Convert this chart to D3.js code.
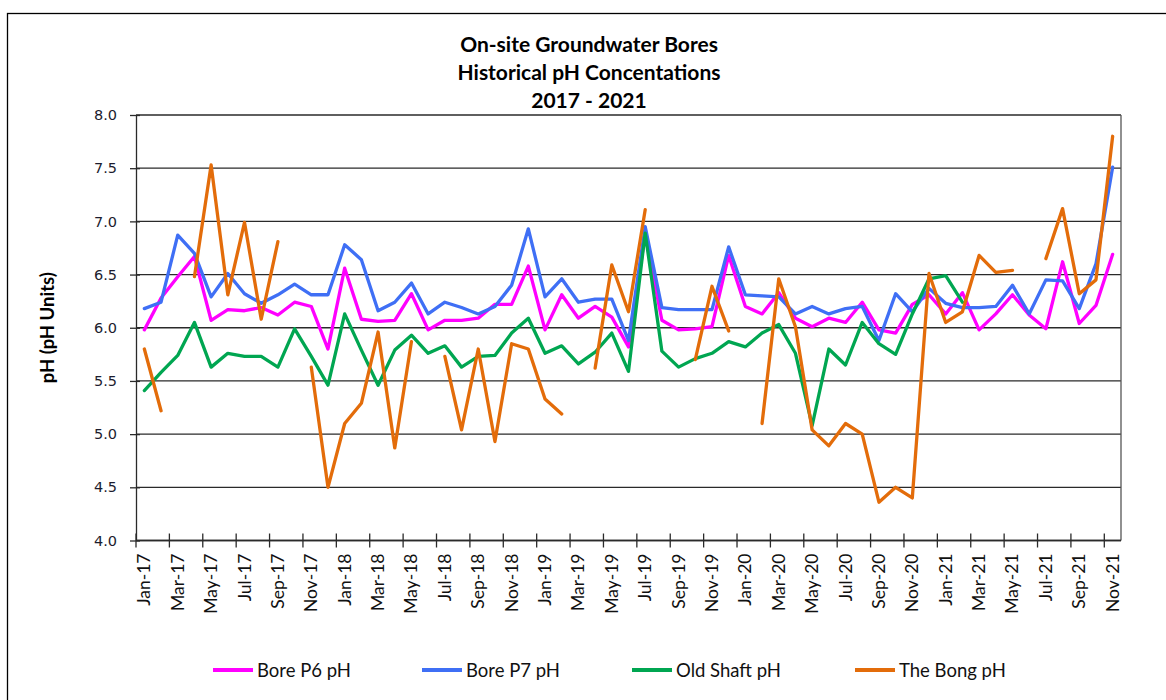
<!DOCTYPE html>
<html>
<head>
<meta charset="utf-8">
<script src="https://cdn.jsdelivr.net/npm/d3@7"></script>
<style>
  html, body { margin: 0; padding: 0; background: #fff; }
  svg { display: block; }
</style>
</head>
<body>
<div id="chart"></div>
<script>
const MONTHS = [
  'Jan-17','Feb-17','Mar-17','Apr-17','May-17','Jun-17','Jul-17','Aug-17','Sep-17','Oct-17','Nov-17','Dec-17',
  'Jan-18','Feb-18','Mar-18','Apr-18','May-18','Jun-18','Jul-18','Aug-18','Sep-18','Oct-18','Nov-18','Dec-18',
  'Jan-19','Feb-19','Mar-19','Apr-19','May-19','Jun-19','Jul-19','Aug-19','Sep-19','Oct-19','Nov-19','Dec-19',
  'Jan-20','Feb-20','Mar-20','Apr-20','May-20','Jun-20','Jul-20','Aug-20','Sep-20','Oct-20','Nov-20','Dec-20',
  'Jan-21','Feb-21','Mar-21','Apr-21','May-21','Jun-21','Jul-21','Aug-21','Sep-21','Oct-21','Nov-21'
];

const BORE_P6 = [
  5.98, 6.28, 6.48, 6.67, 6.07, 6.17, 6.16, 6.19, 6.12, 6.24, 6.20, 5.80,
  6.56, 6.08, 6.06, 6.07, 6.32, 5.98, 6.07, 6.07, 6.09, 6.22, 6.22, 6.58,
  5.98, 6.31, 6.09, 6.20, 6.10, 5.82, 6.88, 6.07, 5.98, 5.99, 6.01, 6.68,
  6.20, 6.13, 6.33, 6.09, 6.01, 6.09, 6.05, 6.24, 5.98, 5.95, 6.22, 6.31,
  6.13, 6.33, 5.98, 6.13, 6.31, 6.12, 5.99, 6.62, 6.04, 6.21, 6.69
];

const BORE_P7 = [
  6.18, 6.24, 6.87, 6.70, 6.29, 6.51, 6.32, 6.23, 6.31, 6.41, 6.31, 6.31,
  6.78, 6.64, 6.16, 6.24, 6.42, 6.13, 6.24, 6.19, 6.13, 6.20, 6.40, 6.93,
  6.29, 6.46, 6.24, 6.27, 6.27, 5.88, 6.95, 6.19, 6.17, 6.17, 6.17, 6.76,
  6.31, 6.30, 6.29, 6.13, 6.20, 6.13, 6.18, 6.20, 5.88, 6.32, 6.15, 6.37,
  6.23, 6.19, 6.19, 6.20, 6.40, 6.13, 6.45, 6.44, 6.18, 6.60, 7.51
];

const OLD_SHAFT = [
  5.41, 5.58, 5.74, 6.05, 5.63, 5.76, 5.73, 5.73, 5.63, 5.99, 5.73, 5.46,
  6.13, 5.79, 5.46, 5.79, 5.93, 5.76, 5.83, 5.63, 5.73, 5.74, 5.95, 6.09,
  5.76, 5.83, 5.66, 5.77, 5.95, 5.59, 6.89, 5.78, 5.63, 5.71, 5.76, 5.87,
  5.82, 5.95, 6.03, 5.76, 5.08, 5.80, 5.65, 6.05, 5.85, 5.75, 6.13, 6.46,
  6.49, 6.24, null, null, null, null, null, null, null, null, null
];

const THE_BONG = [
  5.80, 5.22, null, 6.48, 7.53, 6.31, 6.99, 6.08, 6.81, null, 5.63, 4.50,
  5.10, 5.29, 5.96, 4.87, 5.87, null, 5.73, 5.04, 5.80, 4.93, 5.85, 5.80,
  5.33, 5.19, null, 5.62, 6.59, 6.15, 7.11, null, null, 5.70, 6.39, 5.97,
  null, 5.10, 6.46, 6.01, 5.04, 4.89, 5.10, 5.00, 4.36, 4.50, 4.40, 6.51,
  6.05, 6.15, 6.68, 6.52, 6.54, null, 6.65, 7.12, 6.32, 6.45, 7.80
];

const SERIES_NAMES = ['Bore P6 pH', 'Bore P7 pH', 'Old Shaft pH', 'The Bong pH'];
const SERIES_COLORS = ['#ff00ff', '#3f6ff5', '#00a651', '#e36c0a'];
const Y_TICKS = [4.0, 4.5, 5.0, 5.5, 6.0, 6.5, 7.0, 7.5, 8.0];
const TITLE_LINES = ['On-site Groundwater Bores', 'Historical pH Concentations', '2017 - 2021'];

const W = 1166, H = 700;
const plot = { left: 136, right: 1121, top: 115, bottom: 540.5 };
const LEGEND_X = [213, 422, 632, 855];

const svg = d3.select('#chart').append('svg').attr('width', W).attr('height', H);

// chart area border (runs off the right/bottom of the picture)
svg.append('rect')
  .attr('x', 7.5).attr('y', 13.5)
  .attr('width', 1200).attr('height', 720)
  .attr('fill', '#fff').attr('stroke', '#000').attr('stroke-width', 1.3);

const x = d3.scaleBand().domain(MONTHS).range([plot.left, plot.right]).paddingInner(0).paddingOuter(0);
const y = d3.scaleLinear().domain([4, 8]).range([plot.bottom, plot.top]);
const cx = m => x(m) + x.bandwidth() / 2;

// gridlines
svg.append('g').selectAll('line').data(Y_TICKS).enter().append('line')
  .attr('x1', plot.left).attr('x2', plot.right)
  .attr('y1', d => y(d)).attr('y2', d => y(d))
  .attr('stroke', '#2a2a2a').attr('stroke-width', 1.3);

// right border of plot area
svg.append('line')
  .attr('x1', plot.right).attr('x2', plot.right)
  .attr('y1', plot.top).attr('y2', plot.bottom)
  .attr('stroke', '#555').attr('stroke-width', 1.3);

// y axis
const yAxis = svg.append('g').attr('transform', `translate(${plot.left},0)`)
  .call(d3.axisLeft(y).tickValues(Y_TICKS).tickFormat(d3.format('.1f')).tickSizeInner(7).tickSizeOuter(0).tickPadding(12));
yAxis.select('.domain').attr('stroke', '#2a2a2a').attr('stroke-width', 1.3);
yAxis.selectAll('.tick line').attr('stroke', '#2a2a2a').attr('stroke-width', 1.3).attr('x2', 4).attr('x1', -6);
yAxis.selectAll('.tick text')
  .attr('font-family', 'DejaVu Sans, Verdana, sans-serif')
  .attr('font-size', 14.5)
  .attr('fill', '#1c1c2e');

// x axis: ticks every two category boundaries, labels every other month
const xAxis = svg.append('g').attr('transform', `translate(0,${plot.bottom})`);
xAxis.append('line')
  .attr('x1', plot.left).attr('x2', plot.right)
  .attr('stroke', '#2a2a2a').attr('stroke-width', 1.3);
const tickMonths = MONTHS.filter((m, i) => i % 2 === 0);
xAxis.selectAll('line.tick').data(tickMonths).enter().append('line')
  .attr('class', 'tick')
  .attr('x1', d => x(d)).attr('x2', d => x(d))
  .attr('y1', -7).attr('y2', 7)
  .attr('stroke', '#2a2a2a').attr('stroke-width', 1.3);
xAxis.selectAll('text').data(tickMonths).enter().append('text')
  .attr('transform', d => `translate(${cx(d) + 6},13) rotate(-90)`)
  .attr('text-anchor', 'end')
  .attr('font-family', 'Lato, sans-serif')
  .attr('font-size', 17.5)
  .attr('fill', '#111')
  .text(d => d);

// series lines
const allSeries = [BORE_P6, BORE_P7, OLD_SHAFT, THE_BONG];
const line = d3.line()
  .defined(d => d.v != null)
  .x(d => cx(d.m))
  .y(d => y(d.v));

svg.append('g').selectAll('path').data(allSeries).enter().append('path')
  .attr('d', vals => line(vals.map((v, i) => ({ m: MONTHS[i], v }))))
  .attr('fill', 'none')
  .attr('stroke', (d, i) => SERIES_COLORS[i])
  .attr('stroke-width', 3.3)
  .attr('stroke-linejoin', 'round')
  .attr('stroke-linecap', 'round');

// title
svg.append('g').selectAll('text').data(TITLE_LINES).enter().append('text')
  .attr('x', 589)
  .attr('y', (d, i) => 51.5 + i * 28)
  .attr('text-anchor', 'middle')
  .attr('font-family', 'Lato, sans-serif')
  .attr('font-weight', 'bold')
  .attr('font-size', 21)
  .attr('fill', '#000')
  .text(d => d);

// y axis title
svg.append('text')
  .attr('transform', `translate(54,${(plot.top + plot.bottom) / 2}) rotate(-90)`)
  .attr('text-anchor', 'middle')
  .attr('font-family', 'Lato, sans-serif')
  .attr('font-weight', 'bold')
  .attr('font-size', 18.5)
  .attr('fill', '#000')
  .text('pH (pH Units)');

// legend
const legend = svg.append('g').selectAll('g').data(SERIES_NAMES).enter().append('g')
  .attr('transform', (d, i) => `translate(${LEGEND_X[i]},670)`);
legend.append('line')
  .attr('x1', 0).attr('x2', 40)
  .attr('stroke', (d, i) => SERIES_COLORS[i])
  .attr('stroke-width', 4);
legend.append('text')
  .attr('x', 44).attr('y', 6.5)
  .attr('font-family', 'Lato, sans-serif')
  .attr('font-size', 18.5)
  .attr('fill', '#111')
  .text(d => d);
</script>
</body>
</html>
